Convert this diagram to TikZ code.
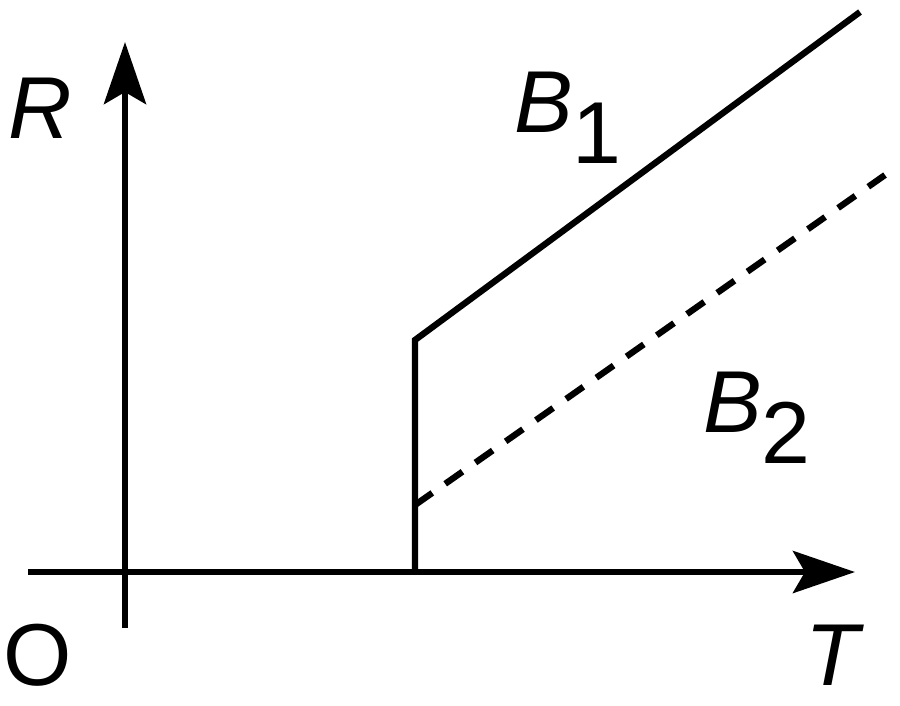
\documentclass[tikz,border=0pt]{standalone}
\usepackage{fontspec}
\setmainfont{Liberation Sans}
\usetikzlibrary{arrows.meta}
\newcommand{\sub}[2]{\textit{#1}\raisebox{-0.35em}{#2}}
\tikzset{
  axis/.style={line width=1.8pt,-{Stealth[length=0.62cm,width=0.42cm,inset=0.12cm]}},
  curve/.style={line width=1.8pt},
  lbl/.style={font=\fontsize{25}{28}\selectfont,inner sep=0pt}
}
\begin{document}
\begin{tikzpicture}[x=0.01cm,y=-0.01cm]
  \useasboundingbox (0,0) rectangle (900,705);
  % axes
  \coordinate (TL) at (28,572);
  \coordinate (TR) at (855,572);
  \coordinate (RB) at (125,628);
  \coordinate (RT) at (125,42);
  \draw[axis] (TL) -- (TR);
  \draw[axis] (RB) -- (RT);
  % curves
  \coordinate (K) at (415,572);
  \coordinate (J) at (415,340);
  \coordinate (E1) at (860,12);
  \coordinate (S2) at (415,505);
  \coordinate (E2) at (885,175);
  \draw[curve,line join=miter] (K) -- (J) -- (E1);
  \draw[curve,dash pattern=on 6pt off 4.5pt] (S2) -- (E2);
  % labels
  \node[lbl] (R) at (40,108) {\textit{R}};
  \node[lbl] (B1) at (568,118) {\sub{B}{1}};
  \node[lbl] (B2) at (757,418) {\sub{B}{2}};
  \node[lbl] (O) at (38,655) {O};
  \node[lbl] (T) at (835,655) {\textit{T}};
\end{tikzpicture}
\end{document}
